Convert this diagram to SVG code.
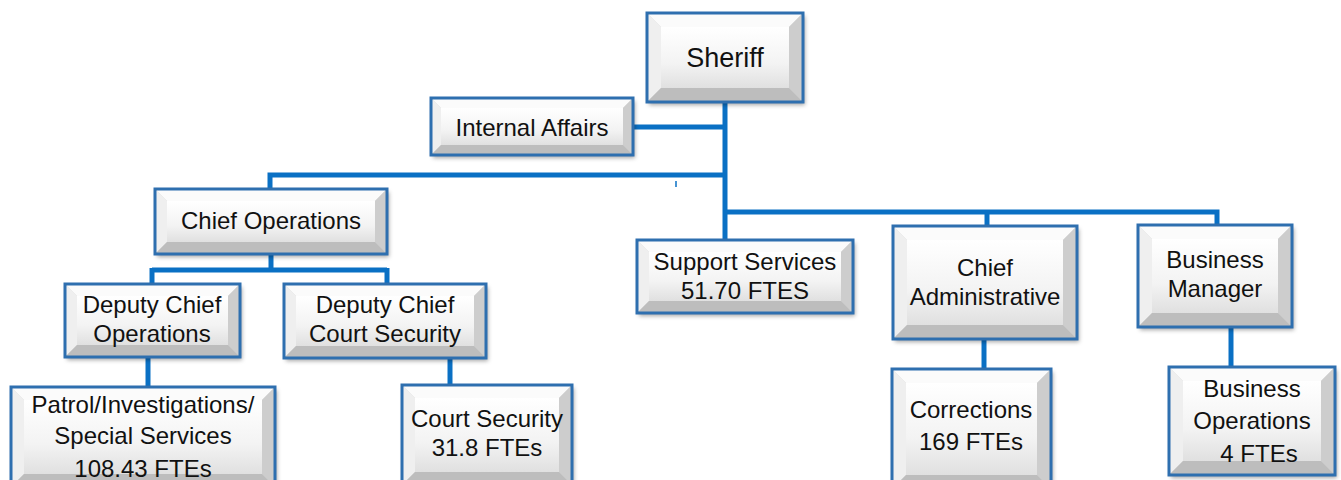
<svg xmlns="http://www.w3.org/2000/svg" width="1341" height="480" viewBox="0 0 1341 480">
<defs>
<linearGradient id="faceG" x1="0" y1="0" x2="0" y2="1">
<stop offset="0" stop-color="#ffffff"/><stop offset="0.6" stop-color="#f3f3f3"/><stop offset="1" stop-color="#e0e0e0"/>
</linearGradient>
<filter id="sh" x="-10%" y="-10%" width="125%" height="130%">
<feDropShadow dx="2" dy="3" stdDeviation="2" flood-color="#000" flood-opacity="0.35"/>
</filter>
</defs>
<style>
.frame{fill:#d4d4d4;filter:url(#sh)}
.bt{fill:#fbfbfb}
.bl{fill:#efefef}
.br{fill:#cdcdcd}
.bb{fill:#bdbdbd}
.face{fill:url(#faceG)}
.edge{fill:none;stroke:#2E6FAF;stroke-width:3}
text{font-family:"Liberation Sans",Arial,sans-serif;font-size:24px;fill:#111;text-anchor:middle}
.conn{stroke:#0A70C4;stroke-width:5;fill:none}
</style>
<g id="connectors">
<path class="conn" d="M725,102 V240"/>
<path class="conn" d="M633,127 H725"/>
<path class="conn" d="M725,175 H270 V189"/>
<path class="conn" d="M725,212 H1217 V225"/>
<path class="conn" d="M987,212 V226"/>
<path d="M676,181 V187" stroke="#0A70C4" stroke-width="1.5"/>
<path class="conn" d="M271,254 V270"/>
<path class="conn" d="M152,270 H387"/>
<path class="conn" d="M152,268 V284"/>
<path class="conn" d="M387,268 V284"/>
<path class="conn" d="M148,357 V387"/>
<path class="conn" d="M450,358 V385"/>
<path class="conn" d="M984,339 V369"/>
<path class="conn" d="M1231,327 V367"/>
</g>
<g id="sheriff">
<rect class="frame" x="647" y="13" width="156" height="89"/>
<polygon class="bt" points="647,13 803,13 789,27 661,27"/>
<polygon class="bl" points="647,13 661,27 661,88 647,102"/>
<polygon class="br" points="803,13 789,27 789,88 803,102"/>
<polygon class="bb" points="647,102 661,88 789,88 803,102"/>
<rect class="face" x="661" y="27" width="128" height="61"/>
<rect class="edge" x="647" y="13" width="156" height="89"/>
<text x="725" y="67" style="font-size:27px">Sheriff</text>
</g>
<g id="internal-affairs">
<rect class="frame" x="431" y="98" width="202" height="57"/>
<polygon class="bt" points="431,98 633,98 623,108 441,108"/>
<polygon class="bl" points="431,98 441,108 441,145 431,155"/>
<polygon class="br" points="633,98 623,108 623,145 633,155"/>
<polygon class="bb" points="431,155 441,145 623,145 633,155"/>
<rect class="face" x="441" y="108" width="182" height="37"/>
<rect class="edge" x="431" y="98" width="202" height="57"/>
<text x="532" y="136">Internal Affairs</text>
</g>
<g id="chief-operations">
<rect class="frame" x="155" y="189" width="232" height="65"/>
<polygon class="bt" points="155,189 387,189 375,201 167,201"/>
<polygon class="bl" points="155,189 167,201 167,242 155,254"/>
<polygon class="br" points="387,189 375,201 375,242 387,254"/>
<polygon class="bb" points="155,254 167,242 375,242 387,254"/>
<rect class="face" x="167" y="201" width="208" height="41"/>
<rect class="edge" x="155" y="189" width="232" height="65"/>
<text x="271" y="229">Chief Operations</text>
</g>
<g id="deputy-chief-operations">
<rect class="frame" x="65" y="284" width="175" height="73"/>
<polygon class="bt" points="65,284 240,284 228,296 77,296"/>
<polygon class="bl" points="65,284 77,296 77,345 65,357"/>
<polygon class="br" points="240,284 228,296 228,345 240,357"/>
<polygon class="bb" points="65,357 77,345 228,345 240,357"/>
<rect class="face" x="77" y="296" width="151" height="49"/>
<rect class="edge" x="65" y="284" width="175" height="73"/>
<text x="152" y="313">Deputy Chief</text>
<text x="152" y="342">Operations</text>
</g>
<g id="deputy-chief-court-security">
<rect class="frame" x="284" y="284" width="202" height="74"/>
<polygon class="bt" points="284,284 486,284 474,296 296,296"/>
<polygon class="bl" points="284,284 296,296 296,346 284,358"/>
<polygon class="br" points="486,284 474,296 474,346 486,358"/>
<polygon class="bb" points="284,358 296,346 474,346 486,358"/>
<rect class="face" x="296" y="296" width="178" height="50"/>
<rect class="edge" x="284" y="284" width="202" height="74"/>
<text x="385" y="313">Deputy Chief</text>
<text x="385" y="342">Court Security</text>
</g>
<g id="patrol">
<rect class="frame" x="11" y="387" width="264" height="100"/>
<polygon class="bt" points="11,387 275,387 262,400 24,400"/>
<polygon class="bl" points="11,387 24,400 24,474 11,487"/>
<polygon class="br" points="275,387 262,400 262,474 275,487"/>
<polygon class="bb" points="11,487 24,474 262,474 275,487"/>
<rect class="face" x="24" y="400" width="238" height="74"/>
<rect class="edge" x="11" y="387" width="264" height="100"/>
<text x="143" y="413">Patrol/Investigations/</text>
<text x="143" y="444">Special Services</text>
<text x="143" y="477">108.43 FTEs</text>
</g>
<g id="court-security">
<rect class="frame" x="402" y="385" width="170" height="100"/>
<polygon class="bt" points="402,385 572,385 559,398 415,398"/>
<polygon class="bl" points="402,385 415,398 415,472 402,485"/>
<polygon class="br" points="572,385 559,398 559,472 572,485"/>
<polygon class="bb" points="402,485 415,472 559,472 572,485"/>
<rect class="face" x="415" y="398" width="144" height="74"/>
<rect class="edge" x="402" y="385" width="170" height="100"/>
<text x="487" y="427">Court Security</text>
<text x="487" y="456">31.8 FTEs</text>
</g>
<g id="support-services">
<rect class="frame" x="637" y="240" width="216" height="73"/>
<polygon class="bt" points="637,240 853,240 841,252 649,252"/>
<polygon class="bl" points="637,240 649,252 649,301 637,313"/>
<polygon class="br" points="853,240 841,252 841,301 853,313"/>
<polygon class="bb" points="637,313 649,301 841,301 853,313"/>
<rect class="face" x="649" y="252" width="192" height="49"/>
<rect class="edge" x="637" y="240" width="216" height="73"/>
<text x="745" y="270">Support Services</text>
<text x="745" y="299">51.70 FTES</text>
</g>
<g id="chief-administrative">
<rect class="frame" x="893" y="226" width="184" height="113"/>
<polygon class="bt" points="893,226 1077,226 1063,240 907,240"/>
<polygon class="bl" points="893,226 907,240 907,325 893,339"/>
<polygon class="br" points="1077,226 1063,240 1063,325 1077,339"/>
<polygon class="bb" points="893,339 907,325 1063,325 1077,339"/>
<rect class="face" x="907" y="240" width="156" height="85"/>
<rect class="edge" x="893" y="226" width="184" height="113"/>
<text x="985" y="276">Chief</text>
<text x="985" y="305">Administrative</text>
</g>
<g id="business-manager">
<rect class="frame" x="1138" y="225" width="154" height="102"/>
<polygon class="bt" points="1138,225 1292,225 1278,239 1152,239"/>
<polygon class="bl" points="1138,225 1152,239 1152,313 1138,327"/>
<polygon class="br" points="1292,225 1278,239 1278,313 1292,327"/>
<polygon class="bb" points="1138,327 1152,313 1278,313 1292,327"/>
<rect class="face" x="1152" y="239" width="126" height="74"/>
<rect class="edge" x="1138" y="225" width="154" height="102"/>
<text x="1215" y="268">Business</text>
<text x="1215" y="297">Manager</text>
</g>
<g id="corrections">
<rect class="frame" x="892" y="369" width="159" height="120"/>
<polygon class="bt" points="892,369 1051,369 1037,383 906,383"/>
<polygon class="bl" points="892,369 906,383 906,475 892,489"/>
<polygon class="br" points="1051,369 1037,383 1037,475 1051,489"/>
<polygon class="bb" points="892,489 906,475 1037,475 1051,489"/>
<rect class="face" x="906" y="383" width="131" height="92"/>
<rect class="edge" x="892" y="369" width="159" height="120"/>
<text x="971" y="418">Corrections</text>
<text x="971" y="450">169 FTEs</text>
</g>
<g id="business-operations">
<rect class="frame" x="1169" y="367" width="166" height="108"/>
<polygon class="bt" points="1169,367 1335,367 1321,381 1183,381"/>
<polygon class="bl" points="1169,367 1183,381 1183,461 1169,475"/>
<polygon class="br" points="1335,367 1321,381 1321,461 1335,475"/>
<polygon class="bb" points="1169,475 1183,461 1321,461 1335,475"/>
<rect class="face" x="1183" y="381" width="138" height="80"/>
<rect class="edge" x="1169" y="367" width="166" height="108"/>
<text x="1252" y="397">Business</text>
<text x="1252" y="429">Operations</text>
<text x="1259" y="462">4 FTEs</text>
</g>
</svg>
